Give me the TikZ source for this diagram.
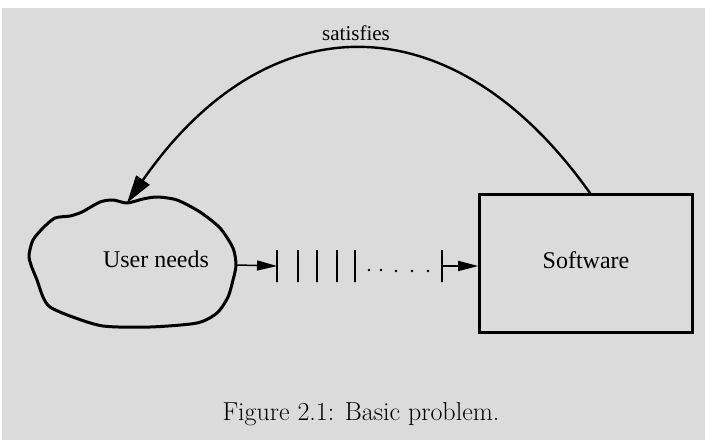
\documentclass[tikz,border=0pt]{standalone}
\usepackage{fontspec}
\newfontfamily\tnr{Liberation Serif}
\usetikzlibrary{arrows.meta}
\definecolor{bggray}{RGB}{219,219,219}
\tikzset{
  lbl/.style={font=\tnr\fontsize{24}{28}\selectfont, inner sep=0pt, anchor=base},
  tickmark/.style={draw, line width=2pt, minimum width=0pt, minimum height=32pt, inner sep=0pt, shape=rectangle},
  smallarrow/.style={line width=1.5pt, -{Triangle[length=20pt,width=10pt]}},
  bigarrow/.style={line width=2.4pt, -{Triangle[length=28pt,width=16pt]}},
  dotmark/.style={fill, circle, inner sep=0pt, minimum size=2.6pt}
}
\begin{document}
\begin{tikzpicture}[x=1pt,y=-1pt]
\useasboundingbox (0,0) rectangle (705,440);
\fill[bggray] (2,8) rectangle (705,440);
% cloud
\draw[line width=3pt, line join=round] plot[smooth cycle, tension=0.45] coordinates {
 (29,255) (33,240) (43,228) (55,218) (70,216) (82,212) (100,202) (113,200) (127,203)
 (143,199) (157,197) (177,200) (200,212) (220,228) (233,248) (236,265) (233,280)
 (228,297) (217,313) (197,323) (150,327) (103,326) (70,316) (50,307) (43,297)
 (37,280) (31,265)};
\node[lbl] (un) at (156,267) {User needs};
\coordinate (cloudR) at (237,265);
\coordinate (cloudTop) at (127,203);
% box
\node[draw, line width=2.6pt, minimum width=213pt, minimum height=138pt, inner sep=0pt] (sw) at (586,263.5) {};
\node[lbl] (swl) at (586,268) {Software};
\coordinate (swTop) at (591,194.5);
% ticks
\node[tickmark] (t1) at (277,266) {};
\node[tickmark] (t2) at (298,266) {};
\node[tickmark] (t3) at (317,266) {};
\node[tickmark] (t4) at (337,266) {};
\node[tickmark] (t5) at (355,266) {};
\node[tickmark] (t6) at (442,266) {};
\node[dotmark] (d1) at (369,270) {};
\node[dotmark] (d2) at (381,270) {};
\node[dotmark] (d3) at (396,271) {};
\node[dotmark] (d4) at (412,271) {};
\node[dotmark] (d5) at (428,271) {};
% arrows
\draw[smallarrow] (cloudR) -- (t1.center);
\draw[smallarrow] (t6.center) -- (sw.west |- t6.center);
\draw[bigarrow] (swTop) .. controls (454,0) and (268,0) .. (cloudTop);
\node[font=\tnr\fontsize{21}{25}\selectfont, inner sep=0pt, anchor=base] (sat) at (356,40) {satisfies};
% caption
\node[font=\fontsize{26}{30}\selectfont, inner sep=0pt, anchor=base] (cap) at (361,420) {Figure 2.1: Basic problem.};
\end{tikzpicture}
\end{document}
